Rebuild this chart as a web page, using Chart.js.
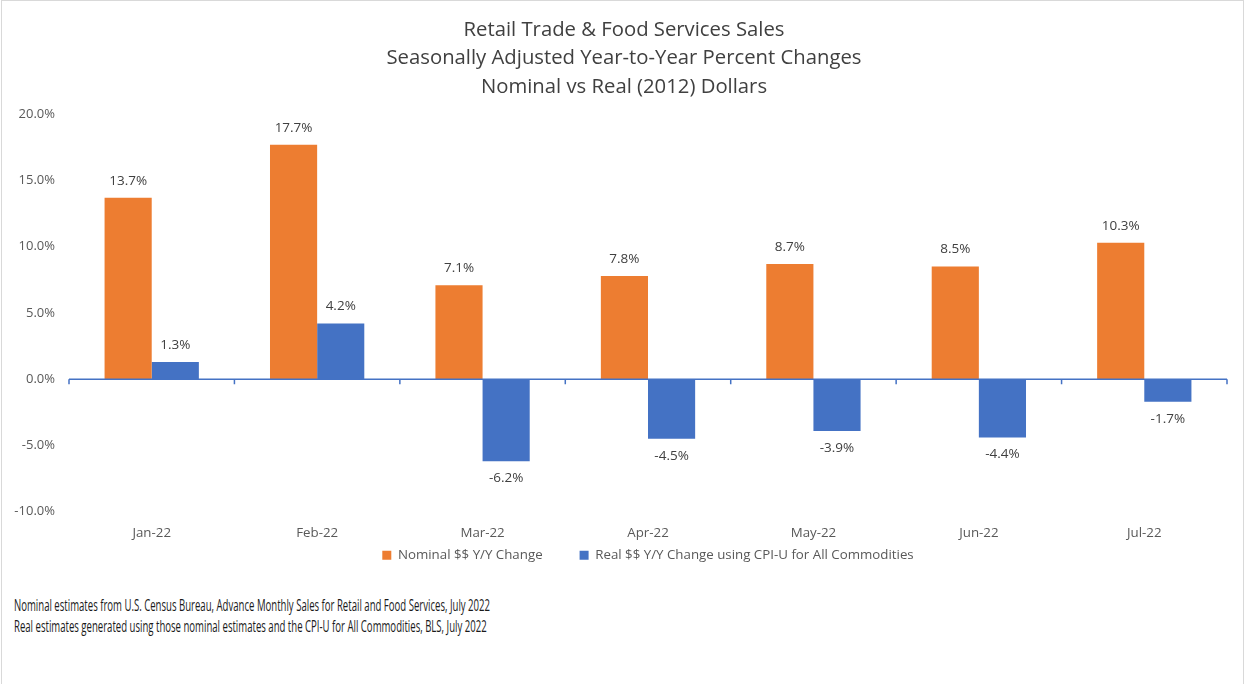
<!DOCTYPE html>
<html>
<head>
<meta charset="utf-8">
<script src="https://cdn.jsdelivr.net/npm/chart.js@4"></script>
<style>
  body { margin: 0; background: #fff; }
  #frame { position: absolute; left: 1px; top: 0px; width: 1241px; height: 700px; border: 1px solid #d9d9d9; }
  #wrap { position: absolute; left: 0; top: 0; width: 1247px; height: 572px; }
  #notes { position: absolute; left: 14px; top: 595px; font-family: "Open Sans", sans-serif; font-size: 16px; line-height: 21px; color: #1a1a1a; white-space: nowrap; transform-origin: 0 0; }
</style>
</head>
<body>
<div id="frame"></div>
<div id="wrap"><canvas id="chart"></canvas></div>
<div id="notes">
  <div><span id="note1">Nominal estimates from U.S. Census Bureau, Advance Monthly Sales for Retail and Food Services, July 2022</span></div>
  <div>Real estimates generated using those nominal estimates and the CPI-U for All Commodities, BLS, July 2022</div>
</div>
<script>
// data
const months = ["Jan-22", "Feb-22", "Mar-22", "Apr-22", "May-22", "Jun-22", "Jul-22"];
const nominal = [13.7, 17.7, 7.1, 7.8, 8.7, 8.5, 10.3];
const real = [1.3, 4.2, -6.2, -4.5, -3.9, -4.4, -1.7];
const titleLines = [
  "Retail Trade & Food Services Sales",
  "Seasonally Adjusted Year-to-Year Percent Changes",
  "Nominal vs Real (2012) Dollars"
];

const FONT = "'Open Sans', 'Noto Sans', sans-serif";
const pct = v => v.toFixed(1) + "%";

// footnote is set in a narrow face in the original, squeeze it to fit
const notes = document.getElementById("notes");
const w1 = document.getElementById("note1").getBoundingClientRect().width;
notes.style.transform = "scaleX(" + (476 / w1) + ")";

// title in the original is centred a little right of the canvas middle
const titleShift = {
  id: "titleShift",
  afterLayout(chart) {
    if (chart.titleBlock) chart.titleBlock.left = 21;
  }
};

// zero line with category tick marks
const zeroAxis = {
  id: "zeroAxis",
  afterDatasetsDraw(chart) {
    const { ctx, chartArea, scales: { x, y } } = chart;
    const y0 = y.getPixelForValue(0);
    const half = (x.getPixelForValue(1) - x.getPixelForValue(0)) / 2;
    ctx.save();
    ctx.strokeStyle = "#4472C4";
    ctx.lineWidth = 1.5;
    ctx.beginPath();
    ctx.moveTo(chartArea.left, y0);
    ctx.lineTo(chartArea.right, y0);
    for (let i = 0; i <= months.length; i++) {
      const px = x.getPixelForValue(i) - half;
      ctx.moveTo(px, y0);
      ctx.lineTo(px, y0 + 5);
    }
    ctx.stroke();
    ctx.restore();
  }
};

// value labels above / below bars
const barLabels = {
  id: "barLabels",
  afterDatasetsDraw(chart) {
    const { ctx } = chart;
    ctx.save();
    ctx.font = "13.5px " + FONT;
    ctx.fillStyle = "#404040";
    ctx.textAlign = "center";
    ctx.textBaseline = "middle";
    chart.data.datasets.forEach((ds, di) => {
      chart.getDatasetMeta(di).data.forEach((bar, i) => {
        const v = ds.data[i];
        const yy = v >= 0 ? bar.y - 17 : bar.y + 17;
        ctx.fillText(pct(v), bar.x, yy);
      });
    });
    ctx.restore();
  }
};

new Chart(document.getElementById("chart"), {
  type: "bar",
  data: {
    labels: months,
    datasets: [
      { label: "Nominal $$ Y/Y Change", data: nominal, backgroundColor: "#ED7D31" },
      { label: "Real $$ Y/Y Change using CPI-U for All Commodities", data: real, backgroundColor: "#4472C4" }
    ]
  },
  options: {
    responsive: true,
    maintainAspectRatio: false,
    animation: false,
    categoryPercentage: 0.57,
    barPercentage: 1.0,
    layout: { padding: { top: 0, right: 20, bottom: 0, left: 0 } },
    plugins: {
      title: {
        display: true,
        text: titleLines,
        color: "#404040",
        font: { family: FONT, size: 20.3, weight: "normal", lineHeight: 1.4 },
        padding: { top: 16, bottom: 13 }
      },
      legend: {
        position: "bottom",
        fullSize: false,
        labels: {
          boxWidth: 9,
          boxHeight: 9,
          padding: 37,
          color: "#595959",
          font: { family: FONT, size: 13.3 }
        }
      },
      tooltip: { enabled: false }
    },
    scales: {
      x: {
        grid: { display: false, drawTicks: false },
        border: { display: false },
        // mirrored so the labels are not clipped to the zero-height axis box
        ticks: { mirror: true, color: "#595959", font: { family: FONT, size: 13.3 }, padding: -29 },
        afterFit(s) { s.height = 0; }
      },
      y: {
        min: -10,
        max: 20,
        grid: { display: false, drawTicks: false },
        border: { display: false },
        ticks: {
          stepSize: 5,
          color: "#595959",
          font: { family: FONT, size: 13 },
          padding: 14,
          callback: v => pct(v)
        },
        afterFit(s) { s.width = 69; }
      }
    }
  },
  plugins: [titleShift, zeroAxis, barLabels]
});
</script>
</body>
</html>
